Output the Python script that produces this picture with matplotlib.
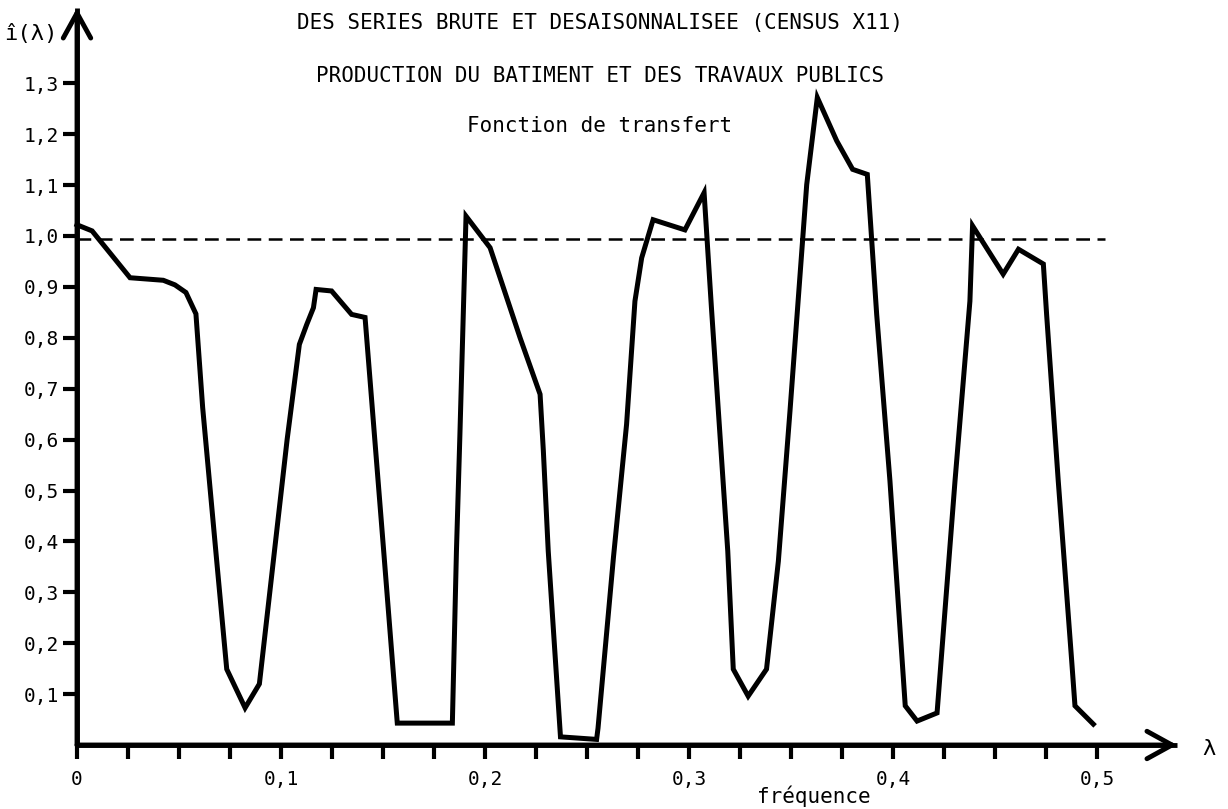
import matplotlib
matplotlib.use("Agg")
import matplotlib.pyplot as plt
from matplotlib.ticker import FixedLocator

# transfer function
freq = [0.0, 0.0074, 0.026, 0.0423, 0.048, 0.0534, 0.0583, 0.0616, 0.0685,
        0.0734, 0.0824, 0.0894, 0.103, 0.109, 0.1126, 0.1159, 0.1172, 0.1248,
        0.1346, 0.1412, 0.1502, 0.157, 0.184, 0.186, 0.1877, 0.1907, 0.2025,
        0.2172, 0.227, 0.2286, 0.231, 0.234, 0.237, 0.2547, 0.2554, 0.263,
        0.2694, 0.2735, 0.2768, 0.2824, 0.298, 0.3074, 0.311, 0.319, 0.3217,
        0.329, 0.338, 0.3438, 0.3495, 0.3577, 0.3629, 0.3724, 0.3802, 0.3874,
        0.392, 0.3985, 0.406, 0.4118, 0.4216, 0.4304, 0.4377, 0.439, 0.454,
        0.4615, 0.4737, 0.4753, 0.481, 0.4876, 0.4892, 0.4982]
gain = [1.022, 1.010, 0.918, 0.913, 0.904, 0.889, 0.847, 0.663, 0.361,
        0.149, 0.073, 0.120, 0.600, 0.787, 0.826, 0.859, 0.895, 0.892,
        0.846, 0.840, 0.388, 0.043, 0.043, 0.381, 0.610, 1.039, 0.977,
        0.800, 0.689, 0.578, 0.381, 0.198, 0.016, 0.011, 0.033, 0.370,
        0.630, 0.872, 0.957, 1.032, 1.012, 1.085, 0.859, 0.381, 0.149,
        0.096, 0.149, 0.361, 0.656, 1.101, 1.272, 1.187, 1.131, 1.121,
        0.846, 0.519, 0.077, 0.047, 0.063, 0.519, 0.872, 1.020, 0.925,
        0.974, 0.945, 0.846, 0.519, 0.165, 0.077, 0.041]

ref_level = 0.995
ref_end = 0.504

x_ticks = [0.0, 0.1, 0.2, 0.3, 0.4, 0.5]
x_labels = ["0", "0,1", "0,2", "0,3", "0,4", "0,5"]
x_minor = [0.025, 0.05, 0.075, 0.125, 0.15, 0.175, 0.225, 0.25, 0.275,
           0.325, 0.35, 0.375, 0.425, 0.45, 0.475]
y_ticks = [0.1, 0.2, 0.3, 0.4, 0.5, 0.6, 0.7, 0.8, 0.9, 1.0, 1.1, 1.2, 1.3]
y_labels = ["0,1", "0,2", "0,3", "0,4", "0,5", "0,6", "0,7", "0,8", "0,9",
            "1,0", "1,1", "1,2", "1,3"]

titles = [
    "DES SERIES BRUTE ET DESAISONNALISEE (CENSUS X11)",
    "PRODUCTION DU BATIMENT ET DES TRAVAUX PUBLICS",
    "Fonction de transfert",
]

plt.rcParams["font.family"] = ["DejaVu Sans Mono", "DejaVu Sans"]

W, H = 1228, 809
fig = plt.figure(figsize=(W / 100, H / 100), dpi=100, facecolor="white")
ax = fig.add_axes([77 / W, (H - 745) / H, 1100 / W, 737 / H])
ax.set_xlim(0, 1100 / 2040)
ax.set_ylim(0, 737 / 509)

for side in ("top", "right"):
    ax.spines[side].set_visible(False)
for side in ("left", "bottom"):
    ax.spines[side].set_linewidth(3.5)
    ax.spines[side].set_capstyle("butt")

ax.xaxis.set_major_locator(FixedLocator(x_ticks))
ax.xaxis.set_minor_locator(FixedLocator(x_minor))
ax.set_xticklabels(x_labels)
ax.set_yticks(y_ticks)
ax.set_yticklabels(y_labels)
ax.tick_params(axis="both", which="both", direction="out", length=10,
               width=3, colors="k", labelsize=14)
ax.tick_params(axis="x", which="major", pad=8)
ax.tick_params(axis="y", pad=3)

# axes drawn as arrows over the spines
arrow = dict(arrowstyle="->,head_length=0.6,head_width=0.33", lw=3.5,
             color="k", mutation_scale=30, shrinkA=0, shrinkB=0)
ax.annotate("", xy=(1.0, 0), xytext=(0, 0), xycoords="axes fraction",
            arrowprops=arrow)
ax.annotate("", xy=(0, 1.0), xytext=(0, 0), xycoords="axes fraction",
            arrowprops=arrow)

ax.hlines(ref_level, 0, ref_end, colors="k", lw=1.8,
          linestyles=(0, (5.5, 3)))
ax.plot(freq, gain, color="k", lw=3.6, solid_joinstyle="miter", clip_on=False)

title_y = [1.419, 1.315, 1.217]
for txt, ty in zip(titles, title_y):
    ax.text(0.2564, ty, txt, ha="center", va="center", fontsize=15,
            clip_on=False)

ax.text(-0.0225, 1.397, "\u00ee(\u03bb)", ha="center", va="center",
        fontsize=16, clip_on=False)
ax.text(0.555, -0.008, "\u03bb", ha="center", va="center", fontsize=16,
        clip_on=False)
ax.text(0.361, -0.100, "fréquence", ha="center", va="center", fontsize=15,
        clip_on=False)

fig.savefig("out.png", dpi=100, facecolor="white")
